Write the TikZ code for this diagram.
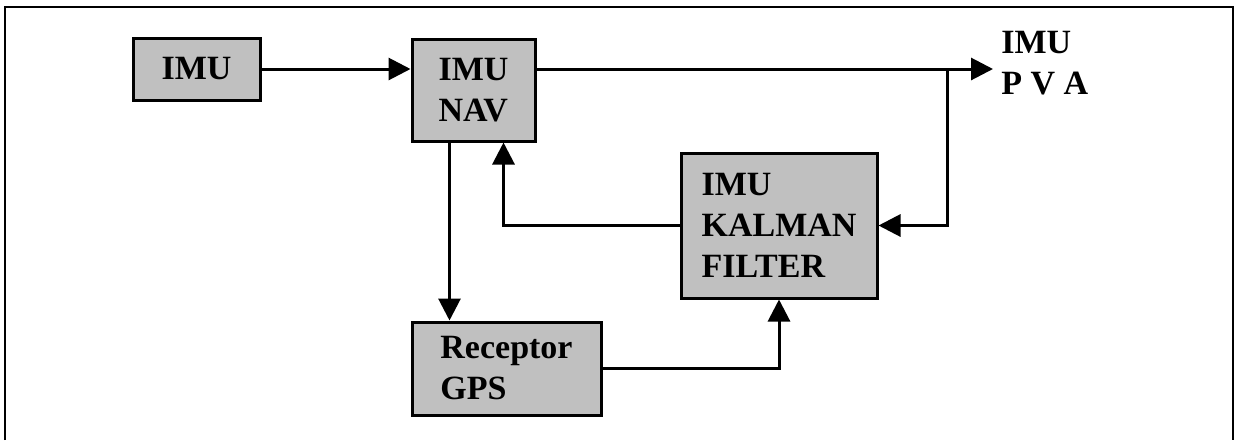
\documentclass[tikz,border=0pt]{standalone}
\usepackage{fontspec}
\setmainfont{Liberation Serif}
\usetikzlibrary{arrows.meta}
\definecolor{boxgray}{RGB}{192,192,192}
\tikzset{
  blk/.style={draw, line width=1.5pt, fill=boxgray, align=left, inner sep=0pt,
    font=\bfseries\fontsize{17}{20.5}\selectfont},
  link/.style={line width=1.5pt, -{Triangle[length=11pt,width=11pt]}}
}
\begin{document}
\begin{tikzpicture}[x=0.5pt, y=-0.5pt]
    \useasboundingbox (0,0) rectangle (1236,440);
    % marco exterior
    \draw[line width=1.3pt] (5,440) |- (1233,7) -- (1233,440);

    % bloques
    \node[blk, minimum width=63.5pt, minimum height=31pt] (imu) at (196.5,69) {IMU};
    \node[blk, minimum width=61.5pt, minimum height=51pt] (nav) at (473.5,90) {IMU\\NAV};
    \node[blk, minimum width=94.5pt, minimum height=46.5pt] (gps) at (506.5,368.5) {Receptor\\GPS};
    \node[blk, minimum width=98pt, minimum height=72.5pt] (kal) at (779,225.5) {IMU\\KALMAN\\FILTER};

    % salida
    \coordinate (out) at (993,69);
    \coordinate (br) at (947,69);
    \node[anchor=north west, align=left, inner sep=0pt,
      font=\bfseries\fontsize{17}{20.5}\selectfont] (pva) at (1001,31) {IMU\\P V A};

    % conexiones
    \draw[link] (imu.east) -- (imu.east -| nav.west);
    \draw[link] (nav.east |- out) -- (out);
    \draw[link] (br) |- (kal.east);
    \draw[link] (kal.west) -| ([xshift=15pt]nav.south);
    \draw[link] ([xshift=-12pt]nav.south) -- ([xshift=-12pt]nav.south |- gps.north);
    \draw[link] (gps.east) -| (kal.south);
\end{tikzpicture}
\end{document}
